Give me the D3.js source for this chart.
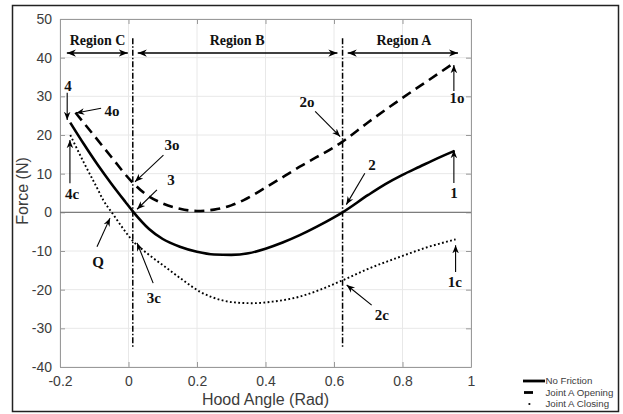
<!DOCTYPE html>
<html>
<head>
<meta charset="utf-8">
<script src="https://cdn.jsdelivr.net/npm/d3@7"></script>
<style>
  body { margin: 0; background: #fff; }
  svg { display: block; }
</style>
</head>
<body>
<svg id="chart" width="623" height="414"></svg>
<script>
// ---- data ----
const xTicks = [-0.2, 0, 0.2, 0.4, 0.6, 0.8, 1];
const yTicks = [-40, -30, -20, -10, 0, 10, 20, 30, 40, 50];

// No friction
const noFrictionX = [-0.17, -0.13, -0.09, -0.05, -0.01, 0.015, 0.06, 0.10, 0.15, 0.20, 0.25, 0.30, 0.35, 0.40, 0.45, 0.50, 0.55, 0.60, 0.625, 0.70, 0.75, 0.80, 0.85, 0.90, 0.952];
const noFrictionY = [23.2, 17.6, 12.3, 7.4, 2.8, 0, -4.3, -6.9, -8.9, -10.2, -10.9, -11.0, -10.6, -9.4, -7.8, -5.9, -3.7, -1.3, 0, 4.5, 7.3, 9.7, 11.8, 13.9, 15.9];

// Joint A opening
const openingX = [-0.155, -0.10, -0.05, 0.01, 0.05, 0.10, 0.15, 0.20, 0.25, 0.30, 0.335, 0.40, 0.50, 0.625, 0.70, 0.80, 0.90, 0.951];
const openingY = [25.8, 19.8, 14.3, 7.9, 4.7, 2.3, 0.9, 0.35, 0.7, 1.8, 3.1, 6.4, 11.8, 18.3, 23.3, 29.6, 35.6, 38.7];

// Joint A closing
const closingX = [-0.17, -0.13, -0.09, -0.074, -0.049, 0.015, 0.06, 0.11, 0.16, 0.21, 0.267, 0.31, 0.36, 0.42, 0.50, 0.56, 0.627, 0.70, 0.793, 0.87, 0.955];
const closingY = [20.0, 12.8, 6.0, 3.2, 0, -7.6, -11.0, -14.3, -17.6, -20.6, -22.6, -23.3, -23.5, -23.1, -21.8, -20.0, -17.5, -14.6, -11.5, -9.1, -7.0];

// Region boundaries (hood angle) and their extent in force
const boundaryX = [0.0125, 0.625];
const boundaryYRange = [-35, 45];

// Region labels and their double arrows
const regionNames = ["Region C", "Region B", "Region A"];
const regionLabelX = [-0.0905, 0.317, 0.804];
const regionArrowStart = [-0.18, 0.027, 0.64];
const regionArrowEnd = [-0.002, 0.61, 0.962];
const regionArrowY = 41.2;
const regionLabelY = 43.3;

// Point annotations: label, label position, arrow tail and head (data units)
const annoLabels = ["4", "4o", "4c", "3o", "3", "Q", "3c", "2o", "2", "2c", "1o", "1", "1c"];
const annoTextX  = [-0.177, -0.048, -0.165, 0.127, 0.124, -0.089, 0.074, 0.521, 0.711, 0.740, 0.959, 0.950, 0.953];
const annoTextY  = [32.7, 26.4, 4.9, 17.4, 8.4, -12.9, -22.1, 28.5, 12.2, -26.6, 29.6, 5.0, -18.0];
const annoTailX  = [-0.179, -0.080, -0.171, 0.102, 0.083, -0.092, 0.072, 0.545, 0.690, 0.710, 0.950, 0.950, 0.955];
const annoTailY  = [30.9, 26.9, 7.5, 14.8, 5.8, -8.9, -18.3, 26.1, 10.1, -24.0, 31.4, 7.6, -15.4];
const annoHeadX  = [-0.179, -0.153, -0.171, 0.019, 0.025, -0.054, 0.025, 0.618, 0.636, 0.637, 0.950, 0.950, 0.955];
const annoHeadY  = [23.9, 25.7, 18.7, 7.9, 0.8, -1.5, -7.9, 19.6, 2.0, -18.8, 38.1, 16.1, -8.5];

const legendNames = ["No Friction", "Joint A Opening", "Joint A Closing"];

// ---- layout ----
const svg = d3.select("#chart");
const plot = { left: 60, right: 471, top: 19, bottom: 367 };

const x = d3.scaleLinear().domain([-0.2, 1]).range([plot.left, plot.right]);
const y = d3.scaleLinear().domain([-40, 50]).range([plot.bottom, plot.top]);

const axisColor = "#9a9a9a";
const textGray = "#3c3c3c";
const sansFont = "'Liberation Sans', Arial, Helvetica, sans-serif";
const serifFont = "'Liberation Serif', 'Times New Roman', Times, serif";

// outer frame
svg.append("rect")
  .attr("x", 12.5).attr("y", 5.5)
  .attr("width", 606).attr("height", 406)
  .attr("fill", "#fff")
  .attr("stroke", "#222").attr("stroke-width", 1.5);

// grid
const grid = svg.append("g");
grid.selectAll(".gx").data(xTicks).join("line")
  .attr("x1", d => x(d)).attr("x2", d => x(d))
  .attr("y1", plot.top).attr("y2", plot.bottom)
  .attr("stroke", "#e8e8e8").attr("stroke-width", 1);
grid.selectAll(".gy").data(yTicks).join("line")
  .attr("x1", plot.left).attr("x2", plot.right)
  .attr("y1", d => y(d)).attr("y2", d => y(d))
  .attr("stroke", "#e8e8e8").attr("stroke-width", 1);

// axes (ticks pointing inward, box on all sides)
const tickLen = 5;
const xAxisB = d3.axisBottom(x).tickValues(xTicks).tickSizeInner(-tickLen).tickSizeOuter(0).tickPadding(9)
  .tickFormat(d => d === 0 ? "0" : d === 1 ? "1" : d3.format(".1f")(d).replace("−", "-"));
const yAxisL = d3.axisLeft(y).tickValues(yTicks).tickSizeInner(-tickLen).tickSizeOuter(0).tickPadding(8)
  .tickFormat(d => String(d));
const xAxisT = d3.axisTop(x).tickValues(xTicks).tickSizeInner(-tickLen).tickSizeOuter(0).tickFormat("");
const yAxisR = d3.axisRight(y).tickValues(yTicks).tickSizeInner(-tickLen).tickSizeOuter(0).tickFormat("");

function styleAxis(g) {
  g.selectAll("path.domain").attr("stroke", axisColor).attr("stroke-width", 1);
  g.selectAll(".tick line").attr("stroke", axisColor).attr("stroke-width", 1);
  g.selectAll(".tick text").attr("fill", textGray).attr("font-family", sansFont).attr("font-size", 14);
}
svg.append("g").attr("transform", `translate(0,${plot.bottom})`).call(xAxisB).call(styleAxis);
svg.append("g").attr("transform", `translate(${plot.left},0)`).call(yAxisL).call(styleAxis);
svg.append("g").attr("transform", `translate(0,${plot.top})`).call(xAxisT).call(styleAxis);
svg.append("g").attr("transform", `translate(${plot.right},0)`).call(yAxisR).call(styleAxis);

// zero line
svg.append("line")
  .attr("x1", plot.left).attr("x2", plot.right)
  .attr("y1", y(0)).attr("y2", y(0))
  .attr("stroke", "#7d7d7d").attr("stroke-width", 1.4);

// axis titles
svg.append("text")
  .attr("x", (plot.left + plot.right) / 2).attr("y", 405)
  .attr("text-anchor", "middle")
  .attr("font-family", sansFont).attr("font-size", 16).attr("fill", textGray)
  .text("Hood Angle (Rad)");
svg.append("text")
  .attr("transform", `translate(27.5,${(plot.top + plot.bottom) / 2 - 2}) rotate(-90)`)
  .attr("text-anchor", "middle")
  .attr("font-family", sansFont).attr("font-size", 16).attr("fill", textGray)
  .text("Force (N)");

// arrowhead markers
const defs = svg.append("defs");
function arrowMarker(id, size) {
  defs.append("marker")
    .attr("id", id)
    .attr("viewBox", "-10 -5 11 10")
    .attr("refX", 0).attr("refY", 0)
    .attr("markerWidth", size).attr("markerHeight", size)
    .attr("markerUnits", "userSpaceOnUse")
    .attr("orient", "auto-start-reverse")
    .append("path")
    .attr("d", "M0,0 L-10,-4 L-7,0 L-10,4 Z")
    .attr("fill", "#000");
}
arrowMarker("head", 10);
arrowMarker("headSmall", 9);

// data series
const line = d3.line().x(d => x(d[0])).y(d => y(d[1])).curve(d3.curveMonotoneX);
const series = [
  { xs: noFrictionX, ys: noFrictionY, dash: null, width: 2.6 },
  { xs: openingX, ys: openingY, dash: "10,6", width: 2.6 },
  { xs: closingX, ys: closingY, dash: "1.8,2.4", width: 1.9 }
];
svg.append("g").selectAll("path").data(series).join("path")
  .attr("d", s => line(d3.zip(s.xs, s.ys)))
  .attr("fill", "none")
  .attr("stroke", "#000")
  .attr("stroke-width", s => s.width)
  .attr("stroke-dasharray", s => s.dash);

// region boundaries (dash-dot)
svg.append("g").selectAll("line").data(boundaryX).join("line")
  .attr("x1", d => x(d)).attr("x2", d => x(d))
  .attr("y1", y(boundaryYRange[1])).attr("y2", y(boundaryYRange[0]))
  .attr("stroke", "#000").attr("stroke-width", 1.5)
  .attr("stroke-dasharray", "6,2,1.5,2");

// region double arrows and labels
const regions = regionNames.map((name, i) => ({
  name, lx: regionLabelX[i], x0: regionArrowStart[i], x1: regionArrowEnd[i]
}));
svg.append("g").selectAll("line").data(regions).join("line")
  .attr("x1", d => x(d.x0)).attr("x2", d => x(d.x1))
  .attr("y1", y(regionArrowY)).attr("y2", y(regionArrowY))
  .attr("stroke", "#000").attr("stroke-width", 1.5)
  .attr("marker-start", "url(#head)")
  .attr("marker-end", "url(#head)");
svg.append("g").selectAll("text").data(regions).join("text")
  .attr("x", d => x(d.lx)).attr("y", y(regionLabelY))
  .attr("text-anchor", "middle")
  .attr("font-family", serifFont).attr("font-weight", "bold").attr("font-size", 14)
  .attr("fill", "#111")
  .text(d => d.name);

// point annotations
const annos = annoLabels.map((t, i) => ({
  t, tx: annoTextX[i], ty: annoTextY[i],
  ax: annoTailX[i], ay: annoTailY[i], bx: annoHeadX[i], by: annoHeadY[i]
}));
svg.append("g").selectAll("line").data(annos).join("line")
  .attr("x1", d => x(d.ax)).attr("y1", d => y(d.ay))
  .attr("x2", d => x(d.bx)).attr("y2", d => y(d.by))
  .attr("stroke", "#000").attr("stroke-width", 1.1)
  .attr("marker-end", "url(#headSmall)");
svg.append("g").selectAll("text").data(annos).join("text")
  .attr("x", d => x(d.tx)).attr("y", d => y(d.ty))
  .attr("dy", "0.35em")
  .attr("text-anchor", "middle")
  .attr("font-family", serifFont).attr("font-weight", "bold").attr("font-size", 15)
  .attr("fill", "#111")
  .text(d => d.t);

// legend
const legend = svg.append("g").attr("transform", "translate(523,381)");
const legendRows = [
  { name: legendNames[0], x1: 0, x2: 22, w: 2.8 },
  { name: legendNames[1], x1: 1, x2: 10, w: 2.8 },
  { name: legendNames[2], x1: 5.5, x2: 7.3, w: 1.8 }
];
const rows = legend.selectAll("g").data(legendRows).join("g")
  .attr("transform", (d, i) => `translate(0,${i * 11.5})`);
rows.append("line")
  .attr("x1", d => d.x1).attr("x2", d => d.x2)
  .attr("y1", 0).attr("y2", 0)
  .attr("stroke", "#000").attr("stroke-width", d => d.w);
rows.append("text")
  .attr("x", 22.5).attr("y", 0).attr("dy", "0.35em")
  .attr("font-family", sansFont).attr("font-size", 9.7).attr("fill", textGray)
  .text(d => d.name);
</script>
</body>
</html>
